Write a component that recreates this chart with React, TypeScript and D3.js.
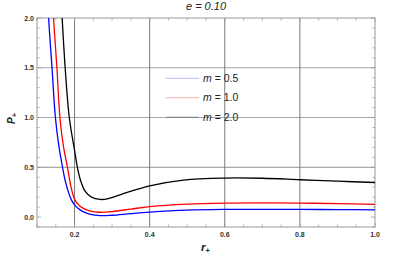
import React from 'react';
import * as d3 from 'd3';

// values, r+ vs P+
const rBlue = [0.128, 0.131, 0.14, 0.149, 0.158, 0.168, 0.176, 0.185, 0.192, 0.2, 0.21, 0.22, 0.24, 0.268, 0.3, 0.35, 0.4, 0.5, 0.6, 0.7, 0.8, 0.9, 1.0];
const pBlue = [2.3, 2.0, 1.5, 1.0, 0.72, 0.5, 0.35, 0.235, 0.17, 0.123, 0.085, 0.06, 0.03, 0.014, 0.018, 0.035, 0.05, 0.07, 0.077, 0.078, 0.077, 0.075, 0.072];

const rRed = [0.14, 0.144, 0.153, 0.161, 0.17, 0.181, 0.19, 0.195, 0.2, 0.21, 0.22, 0.24, 0.268, 0.3, 0.35, 0.4, 0.5, 0.6, 0.7, 0.8, 0.9, 1.0];
const pRed = [2.3, 2.0, 1.5, 1.0, 0.72, 0.5, 0.31, 0.235, 0.18, 0.125, 0.095, 0.062, 0.048, 0.055, 0.08, 0.105, 0.13, 0.14, 0.142, 0.14, 0.135, 0.128];

const rBlack = [0.163, 0.167, 0.175, 0.186, 0.2, 0.207, 0.215, 0.228, 0.245, 0.268, 0.29, 0.33, 0.4, 0.49, 0.6, 0.7, 0.8, 0.9, 1.0];
const pBlack = [2.3, 2.0, 1.5, 1.0, 0.67, 0.51, 0.38, 0.26, 0.2, 0.177, 0.185, 0.235, 0.314, 0.372, 0.392, 0.39, 0.375, 0.36, 0.347];

const xTicks = [0.2, 0.4, 0.6, 0.8, 1.0];
const yTicks = [0.0, 0.5, 1.0, 1.5, 2.0];
const xGrid = [0.2, 0.4, 0.6, 0.8];
const yGrid = [0.5, 1.0, 1.5];
const legendLabels = ['0.5', '1.0', '2.0'];

const series = [
  { r: rBlue, p: pBlue, color: '#0000ff', legend: '#b8b8ff' },
  { r: rRed, p: pRed, color: '#ff0000', legend: '#ffaaaa' },
  { r: rBlack, p: pBlack, color: '#000000', legend: '#777777' },
];

const W = 415;
const H = 260;
const m = { left: 37, right: 40, top: 18, bottom: 33 };

const App: React.FC = () => {
  const x = d3.scaleLinear().domain([0.1, 1.0]).range([m.left, W - m.right]);
  const y = d3.scaleLinear().domain([-0.1, 2.0]).range([H - m.bottom, m.top]);

  const line = d3.line<[number, number]>()
    .x(d => x(d[0]))
    .y(d => y(d[1]))
    .curve(d3.curveCatmullRom.alpha(0.5));

  const minorX = d3.range(0.1, 1.0001, 0.05).map(v => +v.toFixed(2));
  const minorY = d3.range(-0.1, 2.0001, 0.1).map(v => +v.toFixed(2));
  const font = 'Liberation Sans, Arial, sans-serif';

  const x0 = x(0.1), x1 = x(1.0), y0 = y(-0.1), y1 = y(2.0);

  return (
    <svg width={W} height={H} style={{ position: 'absolute', left: 0, top: 0, background: '#fff' }} fontFamily={font}>
      <defs>
        <clipPath id="plot">
          <rect x={x0} y={y1} width={x1 - x0} height={y0 - y1} />
        </clipPath>
      </defs>

      {/* grid */}
      {yGrid.map(v => (
        <line key={'gy' + v} x1={x0} x2={x1} y1={y(v)} y2={y(v)} stroke="#a8a8a8" strokeWidth={1.2} />
      ))}
      {xGrid.map(v => (
        <line key={'gx' + v} x1={x(v)} x2={x(v)} y1={y1} y2={y0} stroke="#7a7a7a" strokeWidth={1} />
      ))}

      {/* frame ticks, inward */}
      {minorX.map(v => {
        const major = xTicks.some(t => Math.abs(t - v) < 1e-6);
        const len = major ? 4 : 2.5;
        return (
          <g key={'tx' + v} stroke="#999" strokeWidth={0.8}>
            <line x1={x(v)} x2={x(v)} y1={y0} y2={y0 - len} />
            <line x1={x(v)} x2={x(v)} y1={y1} y2={y1 + len} />
          </g>
        );
      })}
      {minorY.map(v => {
        const major = yTicks.some(t => Math.abs(t - v) < 1e-6);
        const len = major ? 4 : 2.5;
        return (
          <g key={'ty' + v} stroke="#999" strokeWidth={0.8}>
            <line x1={x0} x2={x0 + len} y1={y(v)} y2={y(v)} />
            <line x1={x1} x2={x1 - len} y1={y(v)} y2={y(v)} />
          </g>
        );
      })}
      <rect x={x0} y={y1} width={x1 - x0} height={y0 - y1} fill="none" stroke="#9a9a9a" strokeWidth={1} />

      {/* curves */}
      <g clipPath="url(#plot)">
        {series.map((s, i) => (
          <path key={i} d={line(s.r.map((r, j) => [r, s.p[j]] as [number, number])) || ''}
            fill="none" stroke={s.color} strokeWidth={1.3} />
        ))}
      </g>

      {/* tick labels */}
      {xTicks.map(v => (
        <text key={'lx' + v} x={x(v)} y={y0 + 9.5} textAnchor="middle" fontSize={7} fontWeight="bold" fill="#333">
          {v.toFixed(1)}
        </text>
      ))}
      {yTicks.map(v => (
        <text key={'ly' + v} x={x0 - 3} y={y(v) + 2.5} textAnchor="end" fontSize={7} fontWeight="bold" fill="#333">
          {v.toFixed(1)}
        </text>
      ))}

      {/* legend */}
      {series.map((s, i) => {
        const ly = 78.3 + i * 19.5;
        return (
          <g key={'lg' + i}>
            <line x1={166} x2={199} y1={ly} y2={ly} stroke={s.legend} strokeWidth={1} />
            <text x={203} y={ly + 3.6} fontSize={10.5} fill="#222">
              <tspan fontStyle="italic">m</tspan> = {legendLabels[i]}
            </text>
          </g>
        );
      })}

      {/* titles */}
      <text x={(x0 + x1) / 2} y={10} textAnchor="middle" fontSize={11} fontStyle="italic" fill="#222">
        e = 0.10
      </text>
      <text x={201} y={251} fontSize={11.5} fontWeight="bold" fontStyle="italic" fill="#222">
        r<tspan fontSize={7} dy={2}>+</tspan>
      </text>
      <text transform="translate(15,124) rotate(-90)" fontSize={10} fontWeight="bold" fontStyle="italic" fill="#222">
        P<tspan fontSize={7} dy={2}>+</tspan>
      </text>
    </svg>
  );
};

export default App;
